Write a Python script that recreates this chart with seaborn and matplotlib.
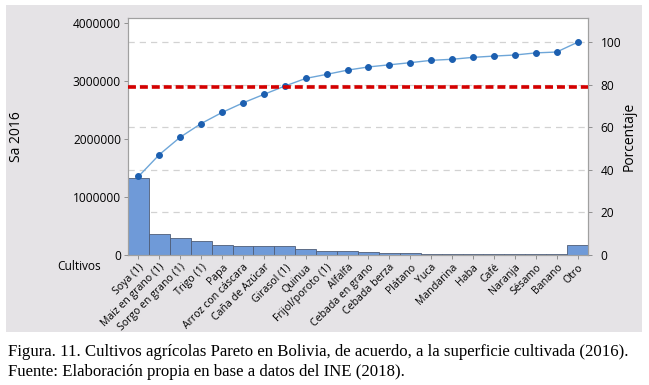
import numpy as np
import pandas as pd
import matplotlib
matplotlib.use("Agg")
import matplotlib.pyplot as plt
import matplotlib.transforms as mtransforms
from matplotlib.patches import Rectangle
import seaborn as sns

# ---- data ----
cultivos = ["Soya (1)", "Maiz en grano (1)", "Sorgo en grano (1)", "Trigo (1)", "Papa",
            "Arroz con cáscara", "Caña de Azúcar", "Girasol (1)", "Quinua", "Frijol/poroto (1)",
            "Alfalfa", "Cebada en grano", "Cebada berza", "Plátano", "Yuca", "Mandarina",
            "Haba", "Café", "Naranja", "Sésamo", "Banano", "Otro"]
superficie = [1325000, 367000, 293000, 241000, 172000, 157000, 155000, 156000, 103000, 76000,
              70000, 55000, 40000, 33000, 18000, 15000, 15000, 14000, 14000, 13000, 12000, 165000]
porcentaje_acum = [36.9, 47.2, 55.4, 61.8, 67.0, 71.5, 75.5, 79.4, 83.0, 84.9, 86.9, 88.4,
                   89.4, 90.4, 91.5, 92.0, 92.9, 93.5, 94.0, 95.0, 95.4, 100.0]
limite = [79.0]
yticks_left = [0, 1000000, 2000000, 3000000, 4000000]
yticks_right = [0, 20, 40, 60, 80, 100]
grid_pct = [20, 40, 60, 80, 100]

df = pd.DataFrame({"Cultivos": cultivos, "Sa 2016": superficie, "Porcentaje": porcentaje_acum,
                   "pos": np.arange(len(cultivos))})

W, H = 649, 385
sns.set_theme(style="white")
plt.rcParams["font.family"] = ["Open Sans", "DejaVu Sans"]
plt.rcParams["text.color"] = "black"
plt.rcParams["axes.labelcolor"] = "black"

fig = plt.figure(figsize=(W / 100, H / 100), dpi=100, facecolor="white")
fig.patches.append(Rectangle((6 / W, 1 - 332 / H), (642 - 6) / W, (332 - 5) / H,
                             transform=fig.transFigure, facecolor="#e5e3e6",
                             edgecolor="none", zorder=-5))

ax = fig.add_axes([128 / W, 1 - 255 / H, (588 - 128) / W, (255 - 18) / H])
ax2 = ax.twinx()
ax.set_facecolor("white")

ax.set_ylim(0, 4081000)
ax2.set_ylim(0, 111.4)
ax.set_xlim(-0.73, len(cultivos) - 1 + 0.73)

# grid lines (percent scale) behind bars
blend = mtransforms.blended_transform_factory(ax.transAxes, ax2.transData)
for p in grid_pct:
    ax.plot([0, 1], [p, p], transform=blend, color="#d2d2d2", lw=0.9,
            ls=(0, (5, 4)), zorder=0.5)

sns.barplot(data=df, x="Cultivos", y="Sa 2016", ax=ax, color="#6f9ad8",
            saturation=1, width=1.0, edgecolor="#4f5d78", linewidth=0.6, zorder=2)

sns.lineplot(data=df, x="pos", y="Porcentaje", ax=ax2, color="#6ea6d8", lw=1.0,
             marker="o", markersize=4.2, markerfacecolor="#1c5fb0",
             markeredgecolor="#1c5fb0", zorder=3)
ax2.axhline(limite[0], color="#d40000", lw=2.6, ls=(0, (2.2, 1.1)), zorder=4)
ax2.set_xlim(ax.get_xlim())

# ticks & labels
ax.set_yticks(yticks_left)
ax.set_yticklabels([str(v) for v in yticks_left], fontsize=8.6)
ax2.set_yticks(yticks_right)
ax2.set_yticklabels([str(v) for v in yticks_right], fontsize=8.6)
ax.set_xticks(np.arange(len(cultivos)))
ax.set_xticklabels(cultivos, rotation=45, ha="right", rotation_mode="anchor", fontsize=7.6)
ax2.tick_params(axis="x", bottom=False, top=False, labelbottom=False)
ax.tick_params(axis="both", direction="out", length=3, width=0.7, color="#909090",
               labelcolor="black", pad=2, left=True, bottom=True)
ax2.tick_params(axis="y", direction="out", length=3, width=0.7, color="#909090",
                labelcolor="black", pad=6, right=True)

ax.set_xlabel("")
ax.set_ylabel("Sa 2016", fontsize=10, color="black")
ax.yaxis.set_label_coords(-0.226, 0.5)
ax2.set_ylabel("Porcentaje", fontsize=10, color="black")
ax2.yaxis.set_label_coords(1.073, 0.5)
ax.text(57 / W, 1 - 267 / H, "Cultivos", transform=fig.transFigure, fontsize=8.6,
        va="center", ha="left", color="black")

for a in (ax, ax2):
    for s in a.spines.values():
        s.set_color("#a0a0a0")
        s.set_linewidth(0.8)

fig.text(8 / W, 1 - 352 / H,
         "Figura. 11. Cultivos agrícolas Pareto en Bolivia, de acuerdo, a la superficie cultivada (2016).",
         family=["Liberation Serif"], fontsize=12.1, va="center", ha="left", color="black")
fig.text(8 / W, 1 - 372 / H,
         "Fuente: Elaboración propia en base a datos del INE (2018).",
         family=["Liberation Serif"], fontsize=12.1, va="center", ha="left", color="black")

fig.savefig("out.png", dpi=100, facecolor="white")
